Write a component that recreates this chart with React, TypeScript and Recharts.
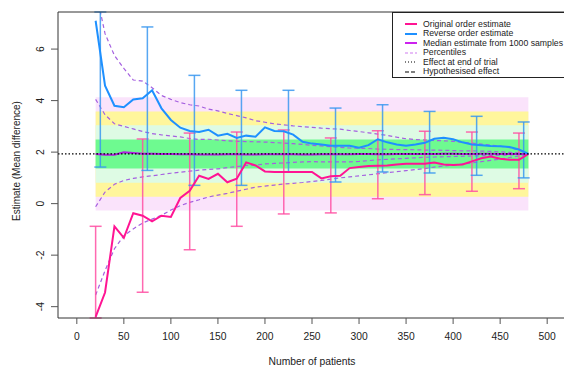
import {
  ComposedChart,
  Line,
  Scatter,
  ErrorBar,
  XAxis,
  YAxis,
  ReferenceArea,
  ReferenceLine,
  Legend,
} from 'recharts';

// number of patients included at each interim look
const patients = [
  20, 30, 40, 50, 60, 70, 80, 90, 100, 110, 120, 130, 140, 150, 160, 170, 180, 190, 200, 210, 220, 230, 240, 250,
  260, 270, 280, 290, 300, 310, 320, 330, 340, 350, 360, 370, 380, 390, 400, 410, 420, 430, 440, 450, 460, 470, 480,
];

const originalOrder = [
  -4.4, -3.45, -0.88, -1.33, -0.37, -0.47, -0.69, -0.47, -0.52, 0.22, 0.5, 1.08, 0.96, 1.16, 0.83, 0.97, 1.6, 1.48,
  1.25, 1.23, 1.23, 1.23, 1.23, 1.23, 0.98, 1.06, 1.08, 1.38, 1.42, 1.46, 1.47, 1.48, 1.52, 1.55, 1.55, 1.55, 1.6,
  1.52, 1.5, 1.52, 1.64, 1.76, 1.83, 1.74, 1.7, 1.7, 1.93,
];

const reverseOrder = [
  7.1, 4.58, 3.8, 3.74, 4.04, 4.09, 4.4, 3.7, 3.25, 2.95, 2.82, 2.78, 2.87, 2.64, 2.71, 2.55, 2.64, 2.6, 2.96, 2.82,
  2.81, 2.68, 2.4, 2.33, 2.3, 2.25, 2.25, 2.25, 2.17, 2.27, 2.5, 2.38, 2.3, 2.25, 2.3, 2.36, 2.52, 2.56, 2.5, 2.38,
  2.3, 2.27, 2.24, 2.23, 2.2, 2.1, 1.93,
];

const medianEstimate = [
  1.93, 1.9, 1.9, 1.99, 1.97, 1.94, 1.94, 1.93, 1.93, 1.92, 1.92, 1.91, 1.91, 1.91, 1.92, 1.92, 1.91, 1.91, 1.92, 1.92,
  1.92, 1.92, 1.91, 1.91, 1.92, 1.92, 1.92, 1.92, 1.93, 1.93, 1.92, 1.92, 1.93, 1.93, 1.93, 1.93, 1.93, 1.94, 1.94,
  1.93, 1.93, 1.94, 1.94, 1.93, 1.93, 1.93, 1.93,
];

// percentiles of the estimate over 1000 random orderings
const outerLower = [
  -3.55, -2.6, -1.75, -1.25, -0.98, -0.75, -0.6, -0.45, -0.25, -0.08, 0.05, 0.15, 0.26, 0.33, 0.4, 0.48, 0.56, 0.64,
  0.68, 0.72, 0.76, 0.79, 0.82, 0.86, 0.9, 0.95, 1.0, 1.04, 1.08, 1.12, 1.16, 1.2, 1.24, 1.28, 1.32, 1.36, 1.42,
  1.46, 1.5, 1.54, 1.58, 1.63, 1.68, 1.73, 1.79, 1.85, 1.93,
];
const innerLower = [
  -0.12, 0.45, 0.75, 0.9, 0.98, 1.04, 1.08, 1.13, 1.18, 1.22, 1.26, 1.3, 1.33, 1.35, 1.4, 1.44, 1.48, 1.5, 1.54, 1.56,
  1.58, 1.6, 1.62, 1.63, 1.62, 1.62, 1.62, 1.62, 1.64, 1.67, 1.7, 1.72, 1.74, 1.76, 1.78, 1.8, 1.81, 1.82, 1.83, 1.84,
  1.85, 1.86, 1.87, 1.88, 1.89, 1.91, 1.93,
];
const innerUpper = [
  4.05, 3.45, 3.1, 3.0, 2.9, 2.8, 2.72, 2.67, 2.63, 2.59, 2.53, 2.49, 2.5, 2.47, 2.44, 2.42, 2.41, 2.4, 2.39, 2.37,
  2.35, 2.33, 2.3, 2.26, 2.24, 2.21, 2.18, 2.16, 2.15, 2.14, 2.12, 2.11, 2.1, 2.1, 2.09, 2.08, 2.08, 2.07, 2.06, 2.05,
  2.05, 2.04, 2.03, 2.01, 1.99, 1.97, 1.93,
];
const outerUpper = [
  8.3, 6.6, 5.75, 5.25, 4.8, 4.76, 4.5, 4.2, 4.05, 3.92, 3.84, 3.79, 3.67, 3.6, 3.5, 3.42, 3.33, 3.22, 3.16, 3.1,
  3.06, 3.02, 2.99, 2.96, 2.93, 2.91, 2.89, 2.84, 2.8, 2.75, 2.7, 2.65, 2.58, 2.52, 2.49, 2.47, 2.45, 2.44, 2.42,
  2.38, 2.35, 2.31, 2.27, 2.23, 2.17, 2.08, 1.93,
];

// confidence intervals at selected looks
const originalCiAt = [20, 70, 120, 170, 220, 270, 320, 370, 420, 470];
const originalCiLow = [-4.44, -3.44, -1.79, -0.88, -0.4, -0.36, 0.19, 0.35, 0.48, 0.58];
const originalCiHigh = [-0.88, 2.51, 2.74, 2.78, 2.86, 2.55, 2.83, 2.81, 2.78, 2.74];

const reverseCiAt = [25, 75, 125, 175, 225, 275, 325, 375, 425, 475];
const reverseCiLow = [1.42, 1.29, 0.71, 0.71, 1.23, 0.84, 1.23, 1.19, 1.1, 1.0];
const reverseCiHigh = [7.44, 6.86, 4.98, 4.4, 4.4, 3.71, 3.84, 3.58, 3.39, 3.17];

const effectAtEnd = 1.93;

// shaded zones around the final effect
const zoneLow = [-0.27, 0.27, 0.81, 1.36];
const zoneHigh = [4.13, 3.58, 3.04, 2.49];
const zoneFrom = 20;
const zoneTo = 480;
const zoneColors = ['#FAE3FB', '#FFF69C', '#DEFBE4', '#6EFA90'];

const xTicks = [0, 50, 100, 150, 200, 250, 300, 350, 400, 450, 500];
const yTicks = [-4, -2, 0, 2, 4, 6];

const legendLabels = [
  'Original order estimate',
  'Reverse order estimate',
  'Median estimate from 1000 samples',
  'Percentiles',
  'Effect at end of trial',
  'Hypothesised effect',
];
const legendColors = ['#FF1493', '#1E90FF', '#CC22EE', '#D07CF0', '#000000', '#000000'];
const legendDashes = ['', '', '', '3 2', '1 2', '4 2'];

const lineData = patients.map((n, i) => ({
  n,
  original: originalOrder[i],
  reverse: reverseOrder[i],
  median: medianEstimate[i],
  outerLower: outerLower[i],
  innerLower: innerLower[i],
  innerUpper: innerUpper[i],
  outerUpper: outerUpper[i],
}));

const toIntervals = (at: number[], low: number[], high: number[]) =>
  at.map((n, i) => {
    const mid = (low[i] + high[i]) / 2;
    return { n, est: mid, range: [mid - low[i], high[i] - mid] };
  });

const originalCi = toIntervals(originalCiAt, originalCiLow, originalCiHigh);
const reverseCi = toIntervals(reverseCiAt, reverseCiLow, reverseCiHigh);

const FONT = '"Liberation Sans", Arial, sans-serif';
const PCT = '#A560E0';

const NoMark = () => <g />;

const YTick = ({ x, y, payload }: any) => (
  <text
    x={x}
    y={y}
    dy="0.35em"
    transform={`rotate(-90 ${x} ${y})`}
    textAnchor="middle"
    fontSize={10.3}
    fill="#222"
  >
    {payload.value}
  </text>
);

const YTitle = ({ viewBox }: any) => {
  const cx = viewBox.x + 16;
  const cy = viewBox.y + viewBox.height / 2 - 4;
  return (
    <text x={cx} y={cy} dy="0.35em" transform={`rotate(-90 ${cx} ${cy})`} textAnchor="middle" fontSize={10} fill="#222">
      Estimate (Mean difference)
    </text>
  );
};

const LegendBox = () => (
  <div
    style={{
      width: 176,
      height: 66,
      border: '1px solid #222',
      background: '#fff',
      boxSizing: 'border-box',
      position: 'relative',
      fontSize: 8.7,
      color: '#222',
    }}
  >
    {legendLabels.map((label, i) => (
      <div key={label} style={{ position: 'absolute', left: 0, top: 6.5 + i * 9.55, height: 9.5, display: 'flex', alignItems: 'center' }}>
        <svg width={12} height={4} style={{ marginLeft: 12 }}>
          <line x1={0} x2={12} y1={2} y2={2} stroke={legendColors[i]} strokeWidth={i < 3 ? 2 : 1.2} strokeDasharray={legendDashes[i]} />
        </svg>
        <span style={{ marginLeft: 6, whiteSpace: 'nowrap', lineHeight: '9.5px' }}>{label}</span>
      </div>
    ))}
  </div>
);

export default function App() {
  return (
    <div style={{ position: 'absolute', left: 0, top: 0, width: 564, height: 367, overflow: 'hidden', fontFamily: FONT, background: '#fff' }}>
      <ComposedChart width={580} height={367} data={lineData} margin={{ top: 12, right: 14, bottom: 0, left: 0 }}>
        {zoneLow.map((lo, i) => (
          <ReferenceArea
            key={i}
            x1={zoneFrom}
            x2={zoneTo}
            y1={lo}
            y2={zoneHigh[i]}
            fill={zoneColors[i]}
            fillOpacity={1}
            stroke="none"
          />
        ))}
        <XAxis
          type="number"
          dataKey="n"
          domain={[-20, 520]}
          ticks={xTicks}
          allowDataOverflow
          height={49}
          tickSize={6}
          tickMargin={9}
          stroke="#333"
          tick={{ fontSize: 10.3, fill: '#222' }}
          tickLine={{ stroke: '#555' }}
          label={{ value: 'Number of patients', position: 'insideBottom', offset: 2, fontSize: 10.3, fill: '#222' }}
        />
        <YAxis
          type="number"
          domain={[-4.44, 7.44]}
          ticks={yTicks}
          allowDataOverflow
          width={58}
          tickSize={7}
          tickMargin={11}
          stroke="#333"
          tick={<YTick />}
          tickLine={{ stroke: '#555' }}
          label={<YTitle />}
        />
        <Line dataKey="outerUpper" stroke={PCT} strokeWidth={1.2} strokeDasharray="4 3" dot={false} isAnimationActive={false} />
        <Line dataKey="innerUpper" stroke={PCT} strokeWidth={1.2} strokeDasharray="4 3" dot={false} isAnimationActive={false} />
        <Line dataKey="innerLower" stroke={PCT} strokeWidth={1.2} strokeDasharray="4 3" dot={false} isAnimationActive={false} />
        <Line dataKey="outerLower" stroke={PCT} strokeWidth={1.2} strokeDasharray="4 3" dot={false} isAnimationActive={false} />
        <Scatter data={originalCi} dataKey="est" shape={<NoMark />} isAnimationActive={false}>
          <ErrorBar dataKey="range" direction="y" width={6} stroke="#FF4FA3" strokeOpacity={0.85} strokeWidth={1.5} />
        </Scatter>
        <Scatter data={reverseCi} dataKey="est" shape={<NoMark />} isAnimationActive={false}>
          <ErrorBar dataKey="range" direction="y" width={6} stroke="#3A98F0" strokeOpacity={0.85} strokeWidth={1.5} />
        </Scatter>
        <Line dataKey="median" stroke="#B020E0" strokeWidth={2} dot={false} isAnimationActive={false} />
        <Line dataKey="original" stroke="#FF1493" strokeWidth={2} dot={false} isAnimationActive={false} />
        <Line dataKey="reverse" stroke="#1E90FF" strokeWidth={2} dot={false} isAnimationActive={false} />
        <ReferenceLine y={effectAtEnd} stroke="#000" strokeWidth={1.1} strokeDasharray="1.5 2" />
        <ReferenceLine y={7.44} stroke="#333" strokeWidth={1} />
        <Legend
          layout="horizontal"
          align="center"
          verticalAlign="middle"
          content={<LegendBox />}
          wrapperStyle={{ position: 'absolute', left: 392, top: 12, width: 176, height: 66 }}
        />
      </ComposedChart>
    </div>
  );
}
